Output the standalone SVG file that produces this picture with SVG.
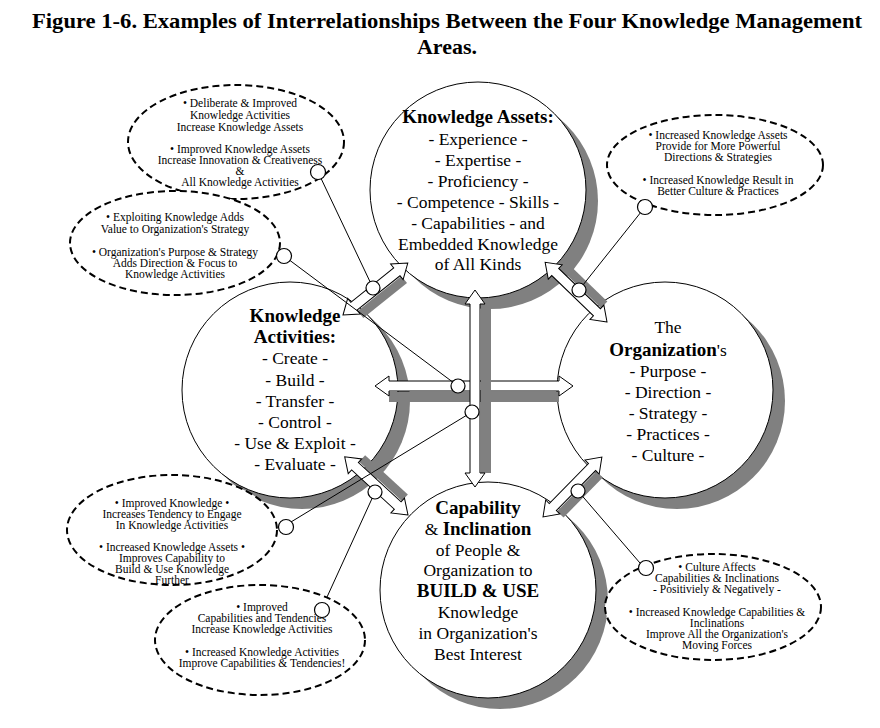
<svg xmlns="http://www.w3.org/2000/svg" width="880" height="728" viewBox="0 0 880 728">
<style>
text{font-family:"Liberation Serif","Times New Roman",serif;fill:#000;text-anchor:middle}
.t{font-size:22px;font-weight:bold}
.c{font-size:17.5px}
.b{font-weight:bold;font-size:19px}
.e{font-size:11.5px}
.sh{fill:#808080}
.ci{fill:#fff;stroke:#000;stroke-width:1}
.el{fill:#fff;stroke:#000;stroke-width:2;stroke-dasharray:7 4}
.dot{fill:#fff;stroke:#000;stroke-width:1.2}
.ln{stroke:#000;stroke-width:1;fill:none}
.ar{fill:#fff;stroke:#000;stroke-width:1}
</style>
<rect width="880" height="728" fill="#fff"/>
<text class="t" x="447" y="28" textLength="830" lengthAdjust="spacingAndGlyphs">Figure 1-6. Examples of Interrelationships Between the Four Knowledge Management</text>
<text class="t" x="447" y="54">Areas.</text>

<g id="ka-node"><circle class="sh" cx="490" cy="201" r="108"/><circle class="ci" cx="478" cy="190" r="108"/>
<text class="b" x="478" y="123">Knowledge Assets:</text>
<text class="c" x="478" y="145">- Experience -</text><text class="c" x="478" y="166">- Expertise -</text>
<text class="c" x="478" y="187">- Proficiency -</text><text class="c" x="478" y="208">- Competence - Skills -</text>
<text class="c" x="478" y="229">- Capabilities - and</text><text class="c" x="478" y="250">Embedded Knowledge</text>
<text class="c" x="478" y="270">of All Kinds</text></g>

<g id="kact-node"><circle class="sh" cx="302" cy="401" r="108"/><circle class="ci" cx="290" cy="390" r="108"/>
<text class="b" x="295" y="322">Knowledge</text><text class="b" x="295" y="343">Activities:</text>
<text class="c" x="295" y="364">- Create -</text><text class="c" x="295" y="386">- Build -</text>
<text class="c" x="295" y="407">- Transfer -</text><text class="c" x="295" y="428">- Control -</text>
<text class="c" x="295" y="449">- Use &amp; Exploit -</text><text class="c" x="295" y="470">- Evaluate -</text></g>

<g id="org-node"><circle class="sh" cx="677" cy="401" r="108"/><circle class="ci" cx="665" cy="390" r="108"/>
<text class="c" x="668" y="333">The</text>
<text class="c" x="668" y="356"><tspan font-weight="bold" font-size="19">Organization</tspan>'s</text>
<text class="c" x="668" y="377">- Purpose -</text><text class="c" x="668" y="398">- Direction -</text>
<text class="c" x="668" y="419">- Strategy -</text><text class="c" x="668" y="440">- Practices -</text>
<text class="c" x="668" y="461">- Culture -</text></g>

<g id="cap-node"><circle class="sh" cx="500" cy="601" r="108"/><circle class="ci" cx="488" cy="590" r="108"/>
<text class="b" x="478" y="514">Capability</text>
<text class="c" x="478" y="535">&amp; <tspan font-weight="bold" font-size="19">Inclination</tspan></text>
<text class="c" x="478" y="556">of People &amp;</text><text class="c" x="478" y="576">Organization to</text>
<text class="b" x="478" y="597">BUILD &amp; USE</text><text class="c" x="478" y="618">Knowledge</text>
<text class="c" x="478" y="639">in Organization's</text><text class="c" x="478" y="660">Best Interest</text></g>

<g id="connectors">
<g transform="translate(343,315) rotate(-38.7)"><rect class="sh" x="14" y="6" width="56" height="9"/><polygon class="ar" points="0,0 14,-10 14,-5 69,-5 69,-10 83,0 69,10 69,5 14,5 14,10"/></g>
<g transform="translate(607,322) rotate(224)"><rect class="sh" x="14" y="6" width="58" height="9"/><polygon class="ar" points="0,0 14,-10 14,-5 72,-5 72,-10 86,0 72,10 72,5 14,5 14,10"/></g>
<g transform="translate(408,515) rotate(222.6)"><rect class="sh" x="14" y="6" width="58" height="9"/><polygon class="ar" points="0,0 14,-10 14,-5 72,-5 72,-10 86,0 72,10 72,5 14,5 14,10"/></g>
<g transform="translate(543,517) rotate(-45.5)"><rect class="sh" x="14" y="6" width="56" height="9"/><polygon class="ar" points="0,0 14,-10 14,-5 70,-5 70,-10 84,0 70,10 70,5 14,5 14,10"/></g>
<g transform="translate(375,386)"><rect class="sh" x="14" y="6" width="170" height="10"/><polygon class="ar" points="0,0 14,-10 14,-5 184,-5 184,-10 198,0 184,10 184,5 14,5 14,10"/></g>
<g transform="translate(475,487) rotate(-90)"><rect class="sh" x="14" y="6" width="169" height="10"/><polygon class="ar" points="0,0 14,-10 14,-5 183,-5 183,-10 197,0 183,10 183,5 14,5 14,10"/></g>
<line class="ln" x1="318" y1="172" x2="373" y2="288"/>
<line class="ln" x1="284" y1="256" x2="458" y2="386"/>
<line class="ln" x1="645" y1="207" x2="579" y2="290"/>
<line class="ln" x1="286" y1="525" x2="472" y2="412"/>
<line class="ln" x1="322" y1="608" x2="375" y2="492"/>
<line class="ln" x1="646" y1="570" x2="578" y2="491"/>
<circle class="dot" cx="373" cy="288" r="7"/><circle class="dot" cx="458" cy="386" r="7"/>
<circle class="dot" cx="579" cy="290" r="7"/><circle class="dot" cx="472" cy="412" r="7"/>
<circle class="dot" cx="375" cy="492" r="7"/><circle class="dot" cx="578" cy="491" r="7"/>
</g>

<g id="note1"><ellipse class="el" cx="236" cy="142" rx="108" ry="57"/>
<text class="e" x="240" y="107">• Deliberate &amp; Improved</text><text class="e" x="240" y="119">Knowledge Activities</text><text class="e" x="240" y="131">Increase Knowledge Assets</text>
<text class="e" x="240" y="153">• Improved Knowledge Assets</text><text class="e" x="240" y="164">Increase Innovation &amp; Creativeness</text><text class="e" x="240" y="175">&amp;</text><text class="e" x="240" y="186">All Knowledge Activities</text>
<circle class="dot" cx="318" cy="172" r="7.5"/></g>

<g id="note2"><ellipse class="el" cx="175" cy="243" rx="105" ry="52"/>
<text class="e" x="175" y="221">• Exploiting Knowledge Adds</text><text class="e" x="175" y="233">Value to Organization's Strategy</text>
<text class="e" x="175" y="256">• Organization's Purpose &amp; Strategy</text><text class="e" x="175" y="267">Adds Direction &amp; Focus to</text><text class="e" x="175" y="278">Knowledge Activities</text>
<circle class="dot" cx="284" cy="256" r="7.5"/></g>

<g id="note3"><ellipse class="el" cx="715" cy="165" rx="108" ry="50"/>
<text class="e" x="718" y="139">• Increased Knowledge Assets</text><text class="e" x="718" y="150">Provide for More Powerful</text><text class="e" x="718" y="161">Directions &amp; Strategies</text>
<text class="e" x="718" y="184">• Increased Knowledge Result in</text><text class="e" x="718" y="195">Better Culture &amp; Practices</text>
<circle class="dot" cx="645" cy="207" r="7.5"/></g>

<g id="note4"><ellipse class="el" cx="172" cy="530" rx="105" ry="55"/>
<text class="e" x="172" y="507">• Improved Knowledge •</text><text class="e" x="172" y="518">Increases Tendency to Engage</text><text class="e" x="172" y="529">In Knowledge Activities</text>
<text class="e" x="172" y="551">• Increased Knowledge Assets •</text><text class="e" x="172" y="562">Improves Capability to</text><text class="e" x="172" y="573">Build &amp; Use Knowledge</text><text class="e" x="172" y="584">Further</text>
<circle class="dot" cx="286" cy="527" r="7.5"/></g>

<g id="note5"><ellipse class="el" cx="260" cy="640" rx="105" ry="55"/>
<text class="e" x="262" y="611">• Improved</text><text class="e" x="262" y="622">Capabilities and Tendencies</text><text class="e" x="262" y="633">Increase Knowledge Activities</text>
<text class="e" x="262" y="656">• Increased Knowledge Activities</text><text class="e" x="262" y="667">Improve Capabilities &amp; Tendencies!</text>
<circle class="dot" cx="322" cy="610" r="7.5"/></g>

<g id="note6"><ellipse class="el" cx="713" cy="607" rx="108" ry="53"/>
<text class="e" x="717" y="571">• Culture Affects</text><text class="e" x="717" y="582">Capabilities &amp; Inclinations</text><text class="e" x="717" y="593">- Positiviely &amp; Negatively -</text>
<text class="e" x="717" y="616">• Increased Knowledge Capabilities &amp;</text><text class="e" x="717" y="627">Inclinations</text><text class="e" x="717" y="638">Improve All the Organization's</text><text class="e" x="717" y="649">Moving Forces</text>
<circle class="dot" cx="646" cy="568" r="7.5"/></g>
</svg>
